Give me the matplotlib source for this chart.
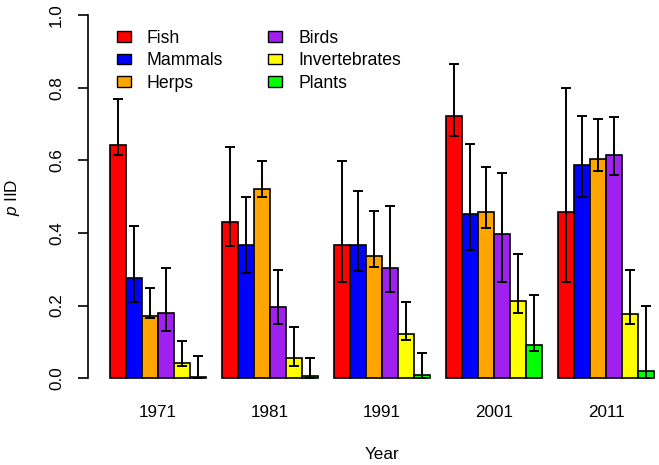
import numpy as np
import matplotlib
matplotlib.use('Agg')
import matplotlib.pyplot as plt
from matplotlib.patches import Patch

plt.rcParams['font.family'] = ['Liberation Sans', 'DejaVu Sans']
plt.rcParams['mathtext.fontset'] = 'custom'
plt.rcParams['mathtext.it'] = 'Liberation Sans:italic'
plt.rcParams['mathtext.rm'] = 'Liberation Sans'

# data
years = ['1971', '1981', '1991', '2001', '2011']
groups = ['Fish', 'Mammals', 'Herps', 'Birds', 'Invertebrates', 'Plants']
colors = ['#FF0000', '#0000FF', '#FFA500', '#A020F0', '#FFFF00', '#00FF00']

fish = [0.642, 0.429, 0.367, 0.722, 0.459]
mammals = [0.277, 0.367, 0.367, 0.452, 0.586]
herps = [0.172, 0.521, 0.337, 0.457, 0.603]
birds = [0.180, 0.196, 0.303, 0.397, 0.614]
inverts = [0.043, 0.055, 0.121, 0.213, 0.176]
plants = [0.003, 0.007, 0.008, 0.092, 0.021]

fish_lo = [0.614, 0.365, 0.265, 0.666, 0.265]
fish_hi = [0.768, 0.636, 0.598, 0.865, 0.798]
mammals_lo = [0.209, 0.291, 0.295, 0.352, 0.500]
mammals_hi = [0.419, 0.499, 0.516, 0.645, 0.721]
herps_lo = [0.167, 0.499, 0.307, 0.415, 0.570]
herps_hi = [0.249, 0.599, 0.460, 0.582, 0.713]
birds_lo = [0.130, 0.149, 0.237, 0.265, 0.559]
birds_hi = [0.303, 0.299, 0.475, 0.565, 0.718]
inverts_lo = [0.034, 0.034, 0.105, 0.180, 0.149]
inverts_hi = [0.103, 0.141, 0.209, 0.341, 0.298]
plants_lo = [0.0, 0.0, 0.0, 0.075, 0.0]
plants_hi = [0.061, 0.055, 0.069, 0.229, 0.198]

values = np.array([fish, mammals, herps, birds, inverts, plants])
lower = np.array([fish_lo, mammals_lo, herps_lo, birds_lo, inverts_lo, plants_lo])
upper = np.array([fish_hi, mammals_hi, herps_hi, birds_hi, inverts_hi, plants_hi])

W, H = 659, 465
fig = plt.figure(figsize=(W / 100, H / 100), dpi=100)
ax = fig.add_axes([88 / W, (H - 392.8) / H, (W - 88) / W, 392.3 / H])

# R style barplot(beside=TRUE): one empty bar width between groups
n = len(groups)
for i in range(n):
    x = np.arange(len(years)) * (n + 1) + 1 + i + 0.5
    ax.bar(x, values[i], width=1.0, color=colors[i], edgecolor='black',
           linewidth=1.2, label=groups[i], zorder=2)
    ax.errorbar(x, values[i], yerr=[values[i] - lower[i], upper[i] - values[i]],
                fmt='none', ecolor='black', elinewidth=1.4, capsize=3.8,
                capthick=1.4, zorder=3)

centers = np.arange(len(years)) * (n + 1) + 1 + n / 2
ax.set_xlim(-0.375, 35.31)
ax.set_ylim(-0.04, 1.04)

for s in ['top', 'right', 'bottom']:
    ax.spines[s].set_visible(False)
ax.spines['left'].set_bounds(0, 1)
ax.spines['left'].set_linewidth(1.2)

yt = [0.0, 0.2, 0.4, 0.6, 0.8, 1.0]
ax.set_yticks(yt)
ax.set_yticklabels(['{:.1f}'.format(v) for v in yt], rotation=90, va='center')
ax.tick_params(axis='y', length=7.2, width=1.2, pad=10, labelsize=12.3)
ax.set_xticks(centers)
ax.set_xticklabels(years)
ax.tick_params(axis='x', length=0, pad=9, labelsize=12.3)

fig.text(382 / W, (H - 454) / H, 'Year', ha='center', va='center', fontsize=12.3)
fig.text(13 / W, (H - 197) / H, r'$p$ IID', ha='center', va='center',
         rotation=90, fontsize=12.3)

handles = [Patch(facecolor=c, edgecolor='black', linewidth=1.0) for c in colors]
ax.legend(handles, groups, ncol=2, loc='upper left', frameon=False,
          bbox_to_anchor=(117 / W, (H - 30) / H), bbox_transform=fig.transFigure,
          fontsize=12.7, borderpad=0, borderaxespad=0, handlelength=0.8,
          handleheight=0.57, handletextpad=0.9, columnspacing=2.55,
          labelspacing=0.3)

fig.savefig('out.png', dpi=100)
